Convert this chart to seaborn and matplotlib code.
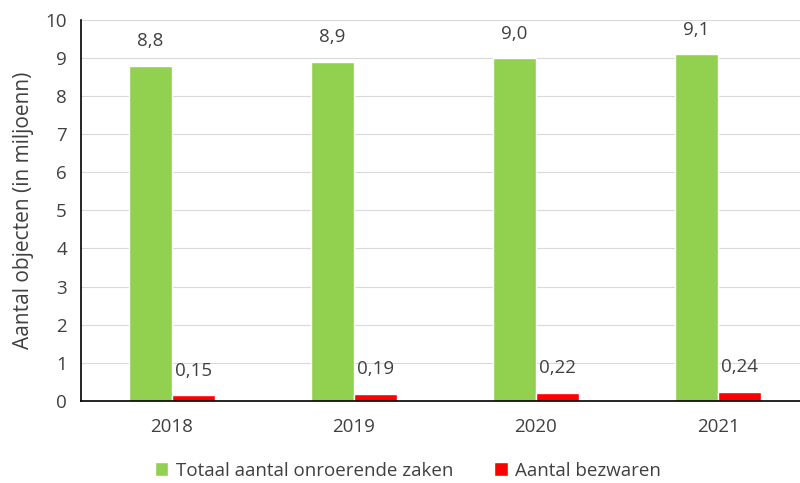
import matplotlib
matplotlib.use("Agg")
import matplotlib.pyplot as plt
import seaborn as sns
import pandas as pd

years = ["2018", "2019", "2020", "2021"]
totaal = [8.8, 8.9, 9.0, 9.1]
bezwaren = [0.15, 0.19, 0.22, 0.24]
totaal_labels = ["8,8", "8,9", "9,0", "9,1"]
bezwaren_labels = ["0,15", "0,19", "0,22", "0,24"]
series = ["Totaal aantal onroerende zaken", "Aantal bezwaren"]
colors = ["#92D050", "#FF0000"]

df = pd.DataFrame({
    "jaar": years * 2,
    "waarde": totaal + bezwaren,
    "reeks": [series[0]] * 4 + [series[1]] * 4,
})

sns.set_theme(style="white")
plt.rcParams['font.family'] = ['Open Sans', 'DejaVu Sans']
txt = "#404040"

fig = plt.figure(figsize=(8, 4.83), dpi=100)
ax = fig.add_axes([0.101, 0.170, 0.899, 0.789])
sns.barplot(data=df, x="jaar", y="waarde", hue="reeks", palette=colors,
            width=0.472, ax=ax, saturation=1, legend=True)

ax.set_xlim(-0.5, 3.45)
ax.set_ylim(0, 10)
ax.set_yticks(range(0, 11))
ax.yaxis.grid(True, color="#D9D9D9", linewidth=0.8)
ax.set_axisbelow(True)
for s in ["top", "right"]:
    ax.spines[s].set_visible(False)
for s in ["left", "bottom"]:
    ax.spines[s].set_color("black")
    ax.spines[s].set_linewidth(1.2)
ax.tick_params(axis="both", length=0, colors=txt, labelsize=13.5)
ax.tick_params(axis="y", pad=10)
ax.tick_params(axis="x", pad=12)
ax.set_xlabel("")
ax.set_ylabel("Aantal objecten (in miljoenn)", fontsize=15, color=txt, labelpad=8)

for cont, labels in zip(ax.containers, [totaal_labels, bezwaren_labels]):
    ax.bar_label(cont, labels=labels, padding=11, fontsize=13.5, color=txt)

handles, lbls = ax.get_legend_handles_labels()
ax.legend(handles, lbls, loc="upper center", bbox_to_anchor=(0.455, -0.115),
          ncol=2, frameon=False, fontsize=13.5, handlelength=0.7, handleheight=0.7,
          columnspacing=2.2, handletextpad=0.4, labelcolor=txt)

fig.savefig("out.png", dpi=100)
